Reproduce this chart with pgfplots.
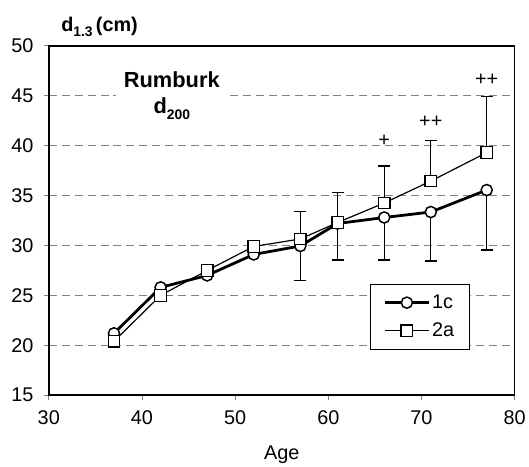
\documentclass[border=0pt]{standalone}
\usepackage{pgfplots}
\pgfplotsset{compat=1.18}
\usepackage{fontspec}
\setmainfont{Liberation Sans}
\usetikzlibrary{calc}

\begin{document}
\begin{tikzpicture}
\begin{axis}[
  name=ax,
  scale only axis, width=468bp, height=351bp,
  xmin=30, xmax=80, ymin=15, ymax=50,
  xtick={30,40,...,80}, ytick={15,20,...,50},
  tick align=outside, major tick length=5bp,
  tick style={gray, line width=0.8bp},
  xtick pos=bottom, ytick pos=left,
  axis line style={line width=1.6bp},
  ymajorgrids,
  grid style={gray, line width=0.9bp, dash pattern=on 8bp off 5bp},
  tick label style={font=\fontsize{20}{24}\selectfont},
  xticklabel style={yshift=-7bp},
  yticklabel style={xshift=-7bp},
  /pgf/number format/assume math mode=true,
  xlabel={Age},
  xlabel style={font=\fontsize{20}{24}\selectfont, yshift=-14bp},
  clip=false,
  legend style={at={(rel axis cs:0.69,0.319)}, anchor=north west,
    draw=black, line width=0.8bp, fill=white,
    font=\fontsize{20}{24}\selectfont, row sep=9bp,
    inner xsep=13bp, inner ysep=9bp},
  legend cell align=left,
  legend image code/.code={%
    \draw[mark repeat=2,mark phase=2,#1] plot coordinates {(0bp,0bp) (22bp,0bp) (44bp,0bp)};},
]

% 1c with lower error bars
\addplot[black, line width=2.8bp, mark=*, mark size=5.6bp,
  mark options={fill=white, line width=1.5bp, solid},
  error bars/.cd, y dir=minus, y explicit,
  error bar style={line width=1.2bp, black},
  error mark options={rotate=90, mark size=6bp, line width=1.2bp, black}]
  coordinates {
  (37,21.2) (42,25.8) (47,27.0) (52,29.1) (57,29.95) +- (0,3.5)
  (61,32.2) +- (0,3.65) (66,32.8) +- (0,4.25) (71,33.35) +- (0,4.9) (77,35.55) +- (0,6.0)
  };
\addlegendentry{1c}

% 2a with upper error bars
\addplot[black, line width=1.2bp, mark=square*, mark size=5.8bp,
  mark options={fill=white, line width=1.3bp, solid},
  error bars/.cd, y dir=plus, y explicit,
  error bar style={line width=1.2bp, black},
  error mark options={rotate=90, mark size=6bp, line width=1.2bp, black}]
  coordinates {
  (37,20.4) (42,25.0) (47,27.5) (52,29.9) (57,30.65) +- (0,2.75)
  (61,32.3) +- (0,3.0) (66,34.25) +- (0,3.7) (71,36.45) +- (0,4.1) (77,39.3) +- (0,5.6)
  };
\addlegendentry{2a}

\node[font=\fontsize{20}{24}\selectfont] at (axis cs:66,40.45) {+};
\node[font=\fontsize{20}{24}\selectfont] at (axis cs:71,42.35) {++};
\node[font=\fontsize{20}{24}\selectfont] at (axis cs:77,46.6) {++};

\node[fill=white, align=center, inner xsep=8bp, inner ysep=3bp,
  font=\bfseries\fontsize{22}{26}\selectfont] at (axis cs:43.2,45.0)
  {Rumburk\\d\raisebox{-6bp}{\fontsize{14}{14}\selectfont 200}};

\node[anchor=base, yshift=14bp, font=\bfseries\fontsize{20}{24}\selectfont]
  at (rel axis cs:0.109,1) {d\raisebox{-5bp}{\fontsize{14}{14}\selectfont 1.3}\,(cm)};
\end{axis}
\path ($(ax.south west)+(-49bp,-72bp)$) rectangle ($(ax.north east)+(12bp,46bp)$);
\end{tikzpicture}
\end{document}
